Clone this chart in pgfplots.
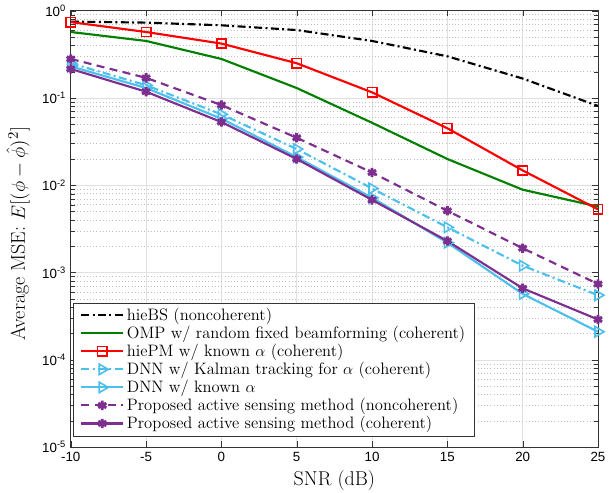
\documentclass[border=0pt]{standalone}
\usepackage{fontspec}
\usepackage{pgfplots}
\pgfplotsset{compat=1.18}
\newfontfamily\tickfont{Liberation Sans}
\definecolor{mgreen}{rgb}{0,0.5,0}
\definecolor{mblue}{rgb}{0.30,0.75,0.93}
\definecolor{mpurple}{rgb}{0.49,0.18,0.56}
\begin{document}
\begin{tikzpicture}
\begin{axis}[
 scale only axis, width=395pt, height=327pt,
 xmin=-10, xmax=25, ymode=log, ymin=1e-5, ymax=1,
 xtick={-10,-5,0,5,10,15,20,25}, xticklabels={-10,-5,0,5,10,15,20,25},
 ytick={1e-5,1e-4,1e-3,1e-2,1e-1,1},
 yticklabels={10\textsuperscript{-5},10\textsuperscript{-4},10\textsuperscript{-3},10\textsuperscript{-2},10\textsuperscript{-1},10\textsuperscript{0}},
 ticklabel style={font=\tickfont\fontsize{10}{11}\selectfont},
 grid=both, major grid style={black!12}, minor grid style={black!25, dotted},
 xlabel={SNR (dB)}, ylabel={Average MSE: $E[(\phi-\hat{\phi})^2]$},
 label style={font=\fontsize{15}{17}\selectfont},
 xlabel style={at={(axis description cs:0.5,0)}, anchor=center, yshift=-25pt},
 ylabel style={at={(axis description cs:0,0.49)}, anchor=center, yshift=39.5pt},
 axis line style={black!80}, tick style={black!80},
 legend style={at={(rel axis cs:0.005,0.025)}, anchor=south west, font=\fontsize{12.4}{14}\selectfont, draw=black!80, row sep=-1.3pt, inner ysep=2pt, inner xsep=5pt},
 legend cell align=left,
 every axis plot/.append style={line width=1.6pt},
 legend image code/.code={\draw[mark repeat=2,mark phase=2,#1] plot coordinates {(0cm,0cm) (0.55cm,0cm) (1.1cm,0cm)};},
]
\addplot[black, dash pattern=on 6pt off 2.5pt on 1.5pt off 2.5pt] coordinates {(-10,0.75) (-5,0.73) (0,0.68) (5,0.60) (10,0.45) (15,0.30) (20,0.167) (25,0.081)};
\addlegendentry{hieBS (noncoherent)}
\addplot[mgreen] coordinates {(-10,0.57) (-5,0.45) (0,0.28) (5,0.13) (10,0.052) (15,0.020) (20,0.0089) (25,0.0057)};
\addlegendentry{OMP w/ random fixed beamforming (coherent)}
\addplot[red, mark=square, mark size=3.5pt, mark options={solid, line width=1.2pt}] coordinates {(-10,0.74) (-5,0.57) (0,0.42) (5,0.25) (10,0.116) (15,0.045) (20,0.0148) (25,0.0053)};
\addlegendentry{hiePM w/ known $\alpha$ (coherent)}
\addplot[mblue, dash pattern=on 6pt off 2.5pt on 1.5pt off 2.5pt, mark=triangle, mark size=4.5pt, mark options={solid, rotate=-90, line width=1.2pt}] coordinates {(-10,0.25) (-5,0.14) (0,0.065) (5,0.026) (10,0.0092) (15,0.0033) (20,0.0012) (25,0.00055)};
\addlegendentry{DNN w/ Kalman tracking for $\alpha$ (coherent)}
\addplot[mblue, mark=triangle, mark size=4.5pt, mark options={solid, rotate=-90, line width=1.2pt}] coordinates {(-10,0.23) (-5,0.13) (0,0.058) (5,0.021) (10,0.0072) (15,0.0022) (20,0.00057) (25,0.00021)};
\addlegendentry{DNN w/ known $\alpha$}
\addplot[mpurple, dash pattern=on 6pt off 4pt, mark=asterisk, mark size=3.5pt, mark options={solid, line width=2.2pt}] coordinates {(-10,0.28) (-5,0.17) (0,0.083) (5,0.035) (10,0.014) (15,0.0051) (20,0.0019) (25,0.00074)};
\addlegendentry{Proposed active sensing method (noncoherent)}
\addplot[mpurple, mark=asterisk, mark size=3.5pt, mark options={solid, line width=2.2pt}] coordinates {(-10,0.215) (-5,0.118) (0,0.053) (5,0.020) (10,0.0068) (15,0.0023) (20,0.00066) (25,0.00029)};
\addlegendentry{Proposed active sensing method (coherent)}
\end{axis}
\pgfresetboundingbox
\path (current axis.south west) ++(-53pt,-34pt) rectangle ([shift={(9pt,8pt)}]current axis.north east);
\end{tikzpicture}
\end{document}
